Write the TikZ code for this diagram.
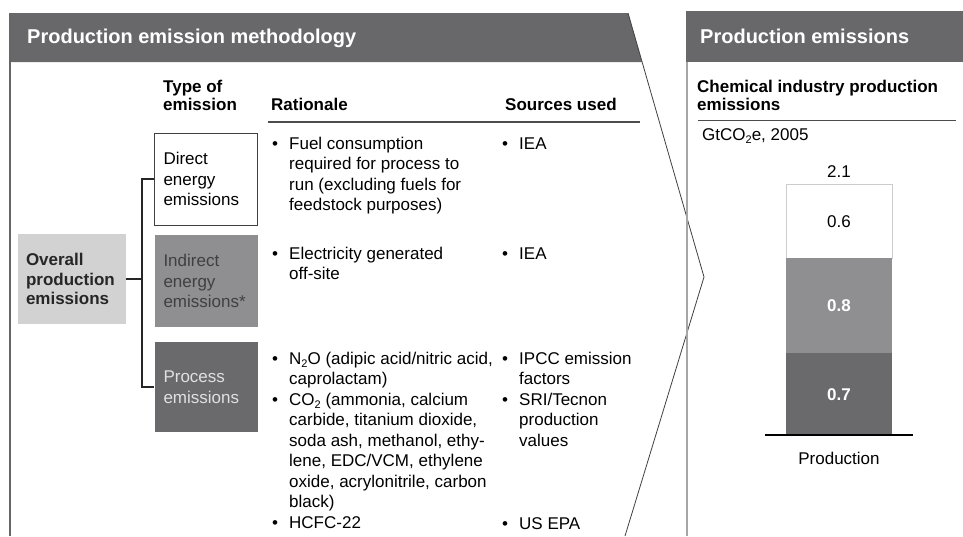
\documentclass[tikz,border=0pt]{standalone}
\usepackage{fontspec}
\setmainfont{Liberation Sans}
\usepackage{tikz}
\usepackage{xcolor}
\definecolor{hdrgray}{RGB}{104,104,107}
\definecolor{midgray}{RGB}{143,143,146}
\definecolor{deepgray}{RGB}{106,106,109}
\definecolor{palegray}{RGB}{210,210,210}
\newcommand{\lines}[1]{\begin{tabular}[t]{@{}l@{}}#1\end{tabular}}
\newcommand{\itm}[1]{\makebox[17pt][l]{\textbullet}\lines{#1}}
\newcommand{\low}[1]{\raisebox{-3.5pt}{\fontsize{11}{11}\selectfont #1}}

\begin{document}
\begin{tikzpicture}
  [x=1pt,y=-1pt,
   every node/.style={inner sep=0pt,font=\fontsize{17}{20.5}\selectfont},
   txt/.style={anchor=base west},
   hdtxt/.style={anchor=base west,text=white,font=\fontsize{20}{22}\selectfont\bfseries},
   colhead/.style={anchor=base west,font=\fontsize{17}{18}\selectfont\bfseries},
   typebox/.style={minimum width=103pt,minimum height=92pt,text width=85pt,align=left},
   tree/.style={line width=1.6pt,black!85},
   seg/.style={minimum width=106pt,anchor=north}]
  \useasboundingbox (0,0) rectangle (963,536);

  % left panel
  \fill[hdrgray] (10,13) -- (628,13) -- (642,62) -- (10,62) -- cycle;
  \draw[black!60,line width=1.5pt] (10,13) -- (10,536);
  \draw[black!75,line width=0.8pt] (628,13) -- (704,277) -- (625,536);
  \node[hdtxt] (lhead) at (27,43) {Production emission methodology};

  \node[colhead] (ctype) at (163,92) {\lines{Type of\\emission}};
  \node[colhead] (crat) at (271,110) {Rationale};
  \node[colhead] (csrc) at (505,110) {Sources used};
  \draw[black!70,line width=1.2pt] (268,122) -- (640,122);

  \node[typebox,draw=black!75,line width=1pt,fill=white] (direct) at (206,179) {Direct\\energy\\emissions};
  \node[typebox,fill=midgray,text=black!75] (indirect) at (206,281) {Indirect\\energy\\emissions*};
  \node[typebox,fill=deepgray,text=black!12,minimum height=90pt] (process) at (206,387) {Process\\emissions};
  \node[fill=palegray,minimum width=108pt,minimum height=90pt,text width=92pt,align=left,
        font=\fontsize{17}{19.5}\selectfont\bfseries,text=black!85] (overall) at (72,279) {Overall\\production\\emissions};

  \coordinate (fork) at (142,279);
  \draw[tree] (overall.east) -- (fork);
  \draw[tree] (direct.west) -| (fork) |- (process.west);

  \node[txt] (r1) at (272,149) {\itm{Fuel consumption\\required for process to\\run (excluding fuels for\\feedstock purposes)}};
  \node[txt] (r2) at (272,259) {\itm{Electricity generated\\off-site}};
  \node[txt] (r3) at (272,364) {\itm{N\low{2}O (adipic acid/nitric acid,\\caprolactam)}};
  \node[txt] (r4) at (272,405) {\itm{CO\low{2} (ammonia, calcium\\carbide, titanium dioxide,\\soda ash, methanol, ethy-\\lene, EDC/VCM, ethylene\\oxide, acrylonitrile, carbon\\black)}};
  \node[txt] (r5) at (272,528) {\itm{HCFC-22}};

  \node[txt] (s1) at (502,149) {\itm{IEA}};
  \node[txt] (s2) at (502,259) {\itm{IEA}};
  \node[txt] (s3) at (502,364) {\itm{IPCC emission\\factors}};
  \node[txt] (s4) at (502,405) {\itm{SRI/Tecnon\\production\\values}};
  \node[txt] (s5) at (502,529) {\itm{US EPA}};

  % right panel
  \fill[hdrgray] (686,11) rectangle (963,62);
  \draw[black!35,line width=1.5pt] (687,62) -- (687,536);
  \node[hdtxt] (rhead) at (700,43) {Production emissions};
  \node[colhead] (chart) at (697,92) {\lines{Chemical industry production\\emissions}};
  \draw[black!70,line width=1pt] (698,120) -- (956,120);
  \node[txt] (unit) at (702,140) {GtCO\low{2}e, 2005};

  \node[seg,draw=black!20,line width=0.8pt,fill=white,minimum height=74pt] (b1) at (839,184) {0.6};
  \node[seg,fill=midgray,minimum height=95pt,text=white,font=\fontsize{17}{20}\selectfont\bfseries] (b2) at (839,258) {0.8};
  \node[seg,fill=deepgray,minimum height=82pt,text=white,font=\fontsize{17}{20}\selectfont\bfseries] (b3) at (839,353) {0.7};
  \node[anchor=base] (total) at (839,177) {2.1};
  \draw[black,line width=1.8pt] (765,435) -- (913,435);
  \node[anchor=base] (xlab) at (839,464) {Production};
\end{tikzpicture}
\end{document}
